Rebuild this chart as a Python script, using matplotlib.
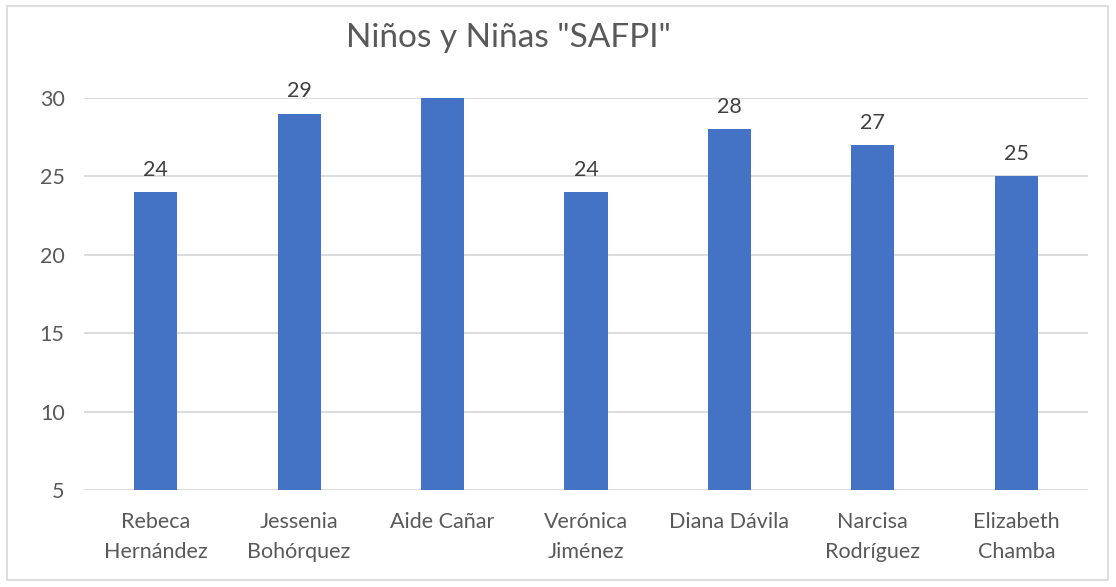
import matplotlib.pyplot as plt
from matplotlib.patches import Rectangle

# Datos del grafico
nombres = ['Rebeca\nHernández', 'Jessenia\nBohórquez', 'Aide Cañar', 'Verónica\nJiménez',
           'Diana Dávila', 'Narcisa\nRodríguez', 'Elizabeth\nChamba']
valores = [24, 29, 30, 24, 28, 27, 25]
y_ticks = [5, 10, 15, 20, 25, 30]

BAR_COLOR = '#4472C4'
GRID_COLOR = '#D9D9D9'
TEXT_COLOR = '#595959'

plt.rcParams['font.family'] = ['Lato', 'DejaVu Sans']

fig = plt.figure(figsize=(11.16, 5.87), dpi=100)
ax = fig.add_axes([84 / 1116, 1 - 490 / 587, 1004 / 1116, 392 / 587])

x = range(len(nombres))
ax.bar(x, valores, width=0.3, color=BAR_COLOR, zorder=3)

ymax = y_ticks[-1]
ax.set_ylim(y_ticks[0], ymax)
ax.set_xlim(-0.5, len(nombres) - 0.5)

# etiquetas de datos (Excel oculta la que cae fuera del area)
for i, v in zip(x, valores):
    if v < ymax:
        ax.annotate(str(v), (i, v), xytext=(0, 9), textcoords='offset points',
                    ha='center', va='bottom', fontsize=15.5, color='#404040')

ax.set_yticks(y_ticks)
ax.set_xticks(list(x))
ax.set_xticklabels(nombres, fontsize=15.5, color=TEXT_COLOR, linespacing=1.6)
ax.tick_params(axis='y', labelsize=15.5, labelcolor=TEXT_COLOR, length=0, pad=14)
ax.tick_params(axis='x', length=0, pad=16)
ax.yaxis.grid(True, color=GRID_COLOR, linewidth=1.3, zorder=0)
for s in ax.spines.values():
    s.set_visible(False)

fig.text(508 / 1116, 1 - 38 / 587, 'Niños y Niñas "SAFPI"', ha='center', va='center',
         fontsize=24, color=TEXT_COLOR)

# borde del grafico
fig.patches.append(Rectangle((7 / 1116, 1 - 580 / 587), 1101 / 1116, 574 / 587,
                             transform=fig.transFigure, fill=False,
                             edgecolor=GRID_COLOR, linewidth=1.2))

fig.savefig('out.png', dpi=100)
